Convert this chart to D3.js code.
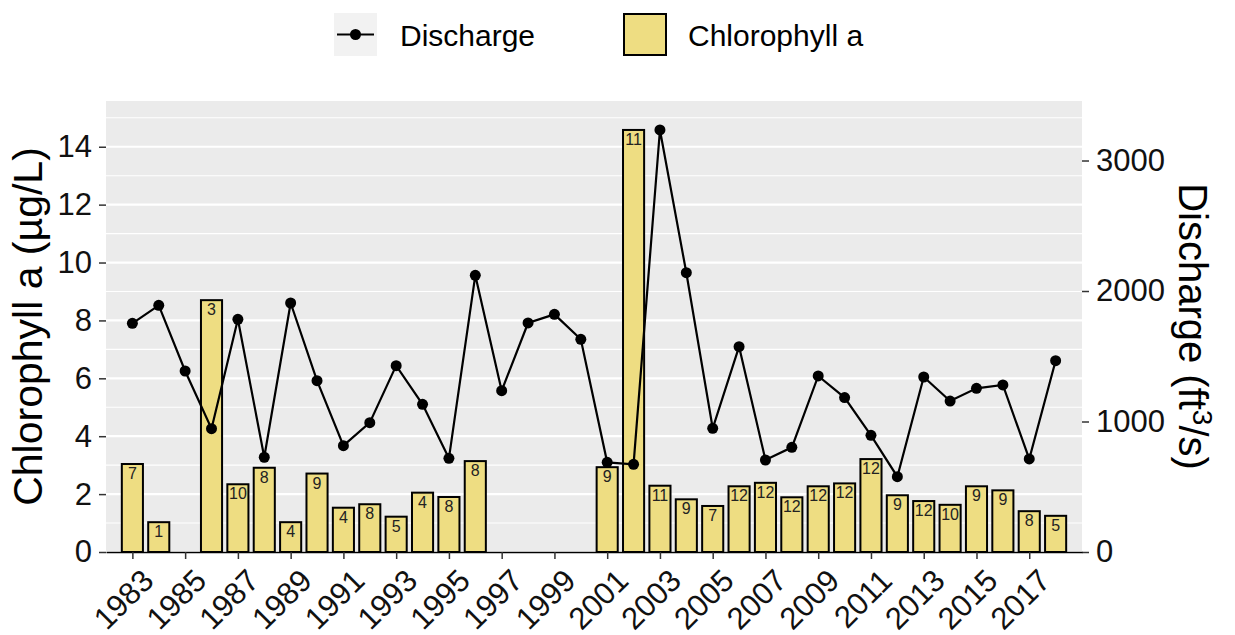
<!DOCTYPE html>
<html>
<head>
<meta charset="utf-8">
<script src="https://cdn.jsdelivr.net/npm/d3@7"></script>
<style>
  body { margin: 0; background: #fff; }
  svg text { font-family: "Liberation Sans", Arial, Helvetica, sans-serif; }
</style>
</head>
<body>
<svg id="chart" width="1235" height="635"></svg>
<script>
// Chlorophyll a (bars, left axis) and discharge (line, right axis) by year

const years = [1983, 1984, 1985, 1986, 1987, 1988, 1989, 1990, 1991, 1992, 1993, 1994,
  1995, 1996, 1997, 1998, 1999, 2000, 2001, 2002, 2003, 2004, 2005, 2006,
  2007, 2008, 2009, 2010, 2011, 2012, 2013, 2014, 2015, 2016, 2017, 2018];

// mean chlorophyll a, null where no samples
const chlorophyll = [3.04, 1.03, null, 8.70, 2.34, 2.91, 1.03, 2.71, 1.53, 1.65, 1.22, 2.05,
  1.90, 3.14, null, null, null, null, 2.93, 14.58, 2.29, 1.82, 1.59, 2.27,
  2.39, 1.89, 2.27, 2.37, 3.21, 1.96, 1.76, 1.63, 2.27, 2.13, 1.41, 1.25];

// number of samples printed in each bar
const sampleCounts = [7, 1, null, 3, 10, 8, 4, 9, 4, 8, 5, 4,
  8, 8, null, null, null, null, 9, 11, 11, 9, 7, 12,
  12, 12, 12, 12, 12, 9, 12, 10, 9, 9, 8, 5];

const discharge = [1752, 1890, 1387, 945, 1783, 726, 1908, 1313, 815, 991, 1428, 1132,
  718, 2120, 1236, 1755, 1821, 1630, 687, 672, 3234, 2140, 948, 1573,
  705, 802, 1349, 1183, 894, 577, 1341, 1157, 1254, 1280, 713, 1466];

const yearTicks = [1983, 1985, 1987, 1989, 1991, 1993, 1995, 1997, 1999,
  2001, 2003, 2005, 2007, 2009, 2011, 2013, 2015, 2017];
const chlTicks = [0, 2, 4, 6, 8, 10, 12, 14];
const chlMinor = [1, 3, 5, 7, 9, 11, 13, 15];
const dischargeTicks = [0, 1000, 2000, 3000];

const barFill = '#EEDD82';
const panel = { left: 106, right: 1082, top: 101, bottom: 552 };

const svg = d3.select('#chart');

const xScale = d3.scaleLinear()
  .domain([1982, 2019])
  .range([panel.left, panel.right]);

const yChl = d3.scaleLinear()
  .domain([0, 15.58])
  .range([panel.bottom, panel.top]);

const yQ = d3.scaleLinear()
  .domain([0, 3456])
  .range([panel.bottom, panel.top]);

const barWidth = 0.8 * (xScale(1) - xScale(0));

// panel background + grid
svg.append('rect')
  .attr('x', panel.left)
  .attr('y', panel.top)
  .attr('width', panel.right - panel.left)
  .attr('height', panel.bottom - panel.top)
  .attr('fill', '#EBEBEB');

svg.append('g').selectAll('line')
  .data(chlMinor)
  .join('line')
  .attr('x1', panel.left).attr('x2', panel.right)
  .attr('y1', d => yChl(d)).attr('y2', d => yChl(d))
  .attr('stroke', '#fff').attr('stroke-width', 1.1);

svg.append('g').selectAll('line')
  .data(chlTicks)
  .join('line')
  .attr('x1', panel.left).attr('x2', panel.right)
  .attr('y1', d => yChl(d)).attr('y2', d => yChl(d))
  .attr('stroke', '#fff').attr('stroke-width', 2.2);

// bars
const barData = years.map((y, i) => ({ year: y, value: chlorophyll[i], n: sampleCounts[i] }))
  .filter(d => d.value !== null);

svg.append('g').selectAll('rect')
  .data(barData)
  .join('rect')
  .attr('x', d => xScale(d.year) - barWidth / 2)
  .attr('y', d => yChl(d.value))
  .attr('width', barWidth)
  .attr('height', d => yChl(0) - yChl(d.value))
  .attr('fill', barFill)
  .attr('stroke', '#000')
  .attr('stroke-width', 2);

svg.append('g').selectAll('text')
  .data(barData)
  .join('text')
  .attr('x', d => xScale(d.year))
  .attr('y', d => yChl(d.value) + 15)
  .attr('text-anchor', 'middle')
  .attr('font-size', '16px')
  .attr('fill', '#222')
  .text(d => d.n);

// discharge line
const lineData = years.map((y, i) => ({ year: y, value: discharge[i] }));

svg.append('path')
  .datum(lineData)
  .attr('fill', 'none')
  .attr('stroke', '#000')
  .attr('stroke-width', 2.2)
  .attr('d', d3.line().x(d => xScale(d.year)).y(d => yQ(d.value)));

svg.append('g').selectAll('circle')
  .data(lineData)
  .join('circle')
  .attr('cx', d => xScale(d.year))
  .attr('cy', d => yQ(d.value))
  .attr('r', 5.5)
  .attr('fill', '#000');

// axes
function styleAxis(g) {
  g.selectAll('.tick line').attr('stroke', '#333').attr('stroke-width', 1.5);
  g.selectAll('.tick text').attr('fill', '#111').attr('font-size', '31px');
}

const leftAxis = svg.append('g')
  .attr('transform', `translate(${panel.left},0)`)
  .call(d3.axisLeft(yChl).tickValues(chlTicks).tickSize(7).tickPadding(7));
leftAxis.select('.domain').remove();
styleAxis(leftAxis);

const rightAxis = svg.append('g')
  .attr('transform', `translate(${panel.right},0)`)
  .call(d3.axisRight(yQ).tickValues(dischargeTicks).tickSize(7).tickPadding(7).tickFormat(d3.format('d')));
rightAxis.select('.domain').remove();
styleAxis(rightAxis);

const bottomAxis = svg.append('g')
  .attr('transform', `translate(0,${panel.bottom})`)
  .call(d3.axisBottom(xScale).tickValues(yearTicks).tickSize(7).tickSizeOuter(0).tickFormat(d3.format('d')));
bottomAxis.select('.domain').attr('stroke', '#000').attr('stroke-width', 1.6);
styleAxis(bottomAxis);
bottomAxis.selectAll('.tick text')
  .attr('x', null)
  .attr('y', null)
  .attr('dy', '0.71em')
  .attr('text-anchor', 'end')
  .attr('transform', 'translate(7,15) rotate(-45)');

// axis titles
svg.append('text')
  .attr('transform', `translate(42,${(panel.top + panel.bottom) / 2}) rotate(-90)`)
  .attr('text-anchor', 'middle')
  .attr('font-size', '41px')
  .attr('fill', '#000')
  .text('Chlorophyll a (µg/L)');

const rightTitle = svg.append('text')
  .attr('transform', `translate(1179,${(panel.top + panel.bottom) / 2}) rotate(90)`)
  .attr('text-anchor', 'middle')
  .attr('font-size', '40px')
  .attr('fill', '#000');
rightTitle.append('tspan').text('Discharge (ft');
rightTitle.append('tspan').attr('font-size', '28px').attr('dy', -14).text('3');
rightTitle.append('tspan').attr('dy', 14).text('/s)');

// legend
const legend = svg.append('g');

legend.append('rect')
  .attr('x', 334).attr('y', 13)
  .attr('width', 43).attr('height', 43)
  .attr('fill', '#F2F2F2');
legend.append('line')
  .attr('x1', 337).attr('x2', 374)
  .attr('y1', 34.5).attr('y2', 34.5)
  .attr('stroke', '#000').attr('stroke-width', 2.2);
legend.append('circle')
  .attr('cx', 355.5).attr('cy', 34.5).attr('r', 5.5)
  .attr('fill', '#000');
legend.append('text')
  .attr('x', 400).attr('y', 46)
  .attr('font-size', '30px')
  .attr('fill', '#000')
  .text('Discharge');

legend.append('rect')
  .attr('x', 624).attr('y', 14)
  .attr('width', 42).attr('height', 41)
  .attr('fill', barFill)
  .attr('stroke', '#000')
  .attr('stroke-width', 2);
legend.append('text')
  .attr('x', 688).attr('y', 46)
  .attr('font-size', '30px')
  .attr('fill', '#000')
  .text('Chlorophyll a');
</script>
</body>
</html>
